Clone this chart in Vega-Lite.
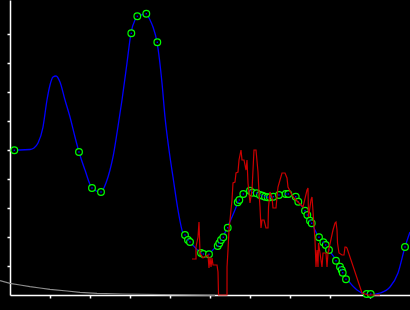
{
  "$schema": "https://vega.github.io/schema/vega-lite/v6.json",
  "width": 400,
  "height": 295,
  "autosize": {"type": "none"},
  "padding": {"left": 10, "top": 0, "right": 0, "bottom": 15},
  "background": "#000000",
  "config": {
    "view": {"stroke": null},
    "axis": {"grid": false, "labels": false, "title": null, "domainColor": "#ffffff", "domainWidth": 1.5, "tickColor": "#ffffff", "tickWidth": 1.5, "tickSize": 3}
  },
  "datasets": {
    "curve": [
      {"x": 1.0, "y": 50.0}, {"x": 2.5, "y": 50.0}, {"x": 5, "y": 50.17}, {"x": 6, "y": 50.69}, {"x": 7, "y": 52.41},
      {"x": 8.25, "y": 57.93}, {"x": 9.25, "y": 67.24}, {"x": 10, "y": 72.41}, {"x": 10.75, "y": 75.17}, {"x": 11.5, "y": 75.52},
      {"x": 12.5, "y": 73.45}, {"x": 13.75, "y": 67.24}, {"x": 15, "y": 61.38}, {"x": 16.25, "y": 54.48}, {"x": 17.25, "y": 49.31},
      {"x": 18.75, "y": 43.1}, {"x": 20.5, "y": 36.9}, {"x": 22.75, "y": 35.52}, {"x": 24, "y": 38.62}, {"x": 25, "y": 43.1},
      {"x": 25.75, "y": 47.59}, {"x": 26.75, "y": 55.86}, {"x": 28, "y": 67.24}, {"x": 29.25, "y": 80.0}, {"x": 30.25, "y": 90.34},
      {"x": 31.25, "y": 94.83}, {"x": 32.25, "y": 96.21}, {"x": 34, "y": 96.9}, {"x": 35, "y": 94.83}, {"x": 35.75, "y": 92.41},
      {"x": 36.75, "y": 87.24}, {"x": 38, "y": 73.1}, {"x": 38.75, "y": 61.38}, {"x": 40, "y": 47.59}, {"x": 40.75, "y": 40.69},
      {"x": 42, "y": 29.31}, {"x": 43.25, "y": 21.38}, {"x": 43.75, "y": 20.69}, {"x": 44.5, "y": 18.97}, {"x": 45, "y": 18.28},
      {"x": 47.5, "y": 14.83}, {"x": 48, "y": 14.48}, {"x": 49.5, "y": 14.14}, {"x": 51.25, "y": 16.21}, {"x": 51.75, "y": 16.55},
      {"x": 52.5, "y": 17.93}, {"x": 53.25, "y": 20.0}, {"x": 54.25, "y": 23.1}, {"x": 55.5, "y": 26.9}, {"x": 57, "y": 32.07},
      {"x": 57.25, "y": 33.1}, {"x": 58.25, "y": 35.17}, {"x": 60, "y": 35.86}, {"x": 61.25, "y": 35.17}, {"x": 62, "y": 35.17},
      {"x": 63.25, "y": 34.48}, {"x": 64.5, "y": 33.79}, {"x": 65.5, "y": 33.79}, {"x": 66.75, "y": 34.48}, {"x": 67.25, "y": 34.48},
      {"x": 69, "y": 34.83}, {"x": 69.75, "y": 34.83}, {"x": 71.5, "y": 33.79}, {"x": 72.25, "y": 32.07}, {"x": 73.75, "y": 28.97},
      {"x": 74.5, "y": 26.9}, {"x": 75, "y": 25.52}, {"x": 75.5, "y": 24.48}, {"x": 77.25, "y": 19.66}, {"x": 78.25, "y": 18.28},
      {"x": 78.75, "y": 17.59}, {"x": 79.75, "y": 15.52}, {"x": 81.5, "y": 12.07}, {"x": 82.5, "y": 9.66}, {"x": 83, "y": 8.28},
      {"x": 83.25, "y": 7.59}, {"x": 84.25, "y": 5.52}, {"x": 86.75, "y": 1.72}, {"x": 88.75, "y": 0.34}, {"x": 90.25, "y": 0.17},
      {"x": 92.5, "y": 0.69}, {"x": 95, "y": 2.76}, {"x": 97, "y": 7.59}, {"x": 98.75, "y": 16.55}, {"x": 100, "y": 21.72}
    ],
    "pts": [
      {"x": 1.08, "y": 49.9}, {"x": 17.25, "y": 49.31}, {"x": 20.5, "y": 36.9}, {"x": 22.75, "y": 35.52}, {"x": 30.33, "y": 90.24},
      {"x": 31.83, "y": 96.1}, {"x": 34.08, "y": 97.0}, {"x": 36.83, "y": 87.14}, {"x": 43.75, "y": 20.69}, {"x": 44.5, "y": 18.97},
      {"x": 45, "y": 18.28}, {"x": 47.75, "y": 14.48}, {"x": 48.33, "y": 14.14}, {"x": 49.75, "y": 14.03}, {"x": 51.93, "y": 16.9},
      {"x": 52.33, "y": 17.83}, {"x": 52.75, "y": 18.97}, {"x": 53.33, "y": 19.9}, {"x": 54.43, "y": 23.2}, {"x": 56.93, "y": 31.97},
      {"x": 57.33, "y": 32.76}, {"x": 58.33, "y": 34.83}, {"x": 60, "y": 35.97}, {"x": 60.58, "y": 35.28}, {"x": 61.68, "y": 35.07},
      {"x": 62.5, "y": 34.48}, {"x": 63.13, "y": 34.21}, {"x": 63.75, "y": 33.9}, {"x": 64.43, "y": 33.69}, {"x": 65, "y": 33.69},
      {"x": 65.83, "y": 33.9}, {"x": 67.25, "y": 34.48}, {"x": 68.93, "y": 34.83}, {"x": 69.58, "y": 34.83}, {"x": 71.43, "y": 33.9},
      {"x": 72.08, "y": 32.17}, {"x": 73.75, "y": 29.07}, {"x": 74.33, "y": 27.59}, {"x": 75, "y": 25.62}, {"x": 75.43, "y": 24.72},
      {"x": 77.25, "y": 19.9}, {"x": 78.33, "y": 18.17}, {"x": 78.93, "y": 17.24}, {"x": 79.75, "y": 15.52}, {"x": 81.5, "y": 11.83},
      {"x": 82.5, "y": 9.76}, {"x": 82.93, "y": 8.62}, {"x": 83.18, "y": 7.69}, {"x": 84, "y": 5.41}, {"x": 89.18, "y": 0.34},
      {"x": 90.18, "y": 0.34}, {"x": 98.75, "y": 16.55}
    ],
    "red": [
      {"x": 45.5, "y": 12.41}, {"x": 46.5, "y": 12.41}, {"x": 46.5, "y": 16.55}, {"x": 47, "y": 20.0}, {"x": 47.25, "y": 25.17},
      {"x": 47.5, "y": 14.48}, {"x": 48.25, "y": 12.76}, {"x": 49, "y": 13.45}, {"x": 49.5, "y": 13.79}, {"x": 49.75, "y": 9.31},
      {"x": 50, "y": 13.1}, {"x": 50.25, "y": 9.66}, {"x": 50.5, "y": 12.76}, {"x": 50.75, "y": 10.34}, {"x": 51.75, "y": 10.34},
      {"x": 52, "y": 7.93}, {"x": 52.13, "y": 0}, {"x": 54.25, "y": 0}, {"x": 54.26, "y": 9.66}, {"x": 54.5, "y": 15.52},
      {"x": 54.75, "y": 22.41}, {"x": 55.25, "y": 29.31}, {"x": 55.5, "y": 32.76}, {"x": 55.75, "y": 38.62}, {"x": 56.25, "y": 38.97},
      {"x": 56.5, "y": 42.07}, {"x": 57, "y": 42.41}, {"x": 57.25, "y": 46.55}, {"x": 57.75, "y": 50.0}, {"x": 58, "y": 46.55},
      {"x": 58.5, "y": 46.55}, {"x": 59, "y": 43.1}, {"x": 59.25, "y": 46.55}, {"x": 59.5, "y": 38.62}, {"x": 60, "y": 31.72},
      {"x": 60.5, "y": 36.21}, {"x": 61, "y": 50.0}, {"x": 61.5, "y": 50.0}, {"x": 62, "y": 42.41}, {"x": 62.25, "y": 35.17},
      {"x": 62.5, "y": 30.34}, {"x": 62.75, "y": 23.1}, {"x": 63, "y": 25.86}, {"x": 63.5, "y": 25.86}, {"x": 64, "y": 23.1},
      {"x": 64.5, "y": 23.1}, {"x": 64.63, "y": 30.34}, {"x": 65, "y": 35.52}, {"x": 65.5, "y": 33.45}, {"x": 65.75, "y": 30.0},
      {"x": 66.5, "y": 30.0}, {"x": 66.75, "y": 33.79}, {"x": 67, "y": 37.24}, {"x": 67.5, "y": 39.66}, {"x": 68, "y": 42.07},
      {"x": 68.75, "y": 42.07}, {"x": 69.25, "y": 40.34}, {"x": 69.5, "y": 37.24}, {"x": 70.5, "y": 34.48}, {"x": 71, "y": 33.45},
      {"x": 72, "y": 32.07}, {"x": 73.25, "y": 30.34}, {"x": 74.25, "y": 36.21}, {"x": 74.5, "y": 36.9}, {"x": 74.63, "y": 26.9},
      {"x": 75.25, "y": 32.76}, {"x": 75.5, "y": 33.79}, {"x": 76.25, "y": 18.97}, {"x": 76.5, "y": 9.66}, {"x": 76.75, "y": 15.52},
      {"x": 77, "y": 9.66}, {"x": 77.13, "y": 17.93}, {"x": 77.5, "y": 14.48}, {"x": 78, "y": 9.66}, {"x": 78.25, "y": 14.48},
      {"x": 79, "y": 14.48}, {"x": 79.25, "y": 9.66}, {"x": 79.5, "y": 14.48}, {"x": 80.75, "y": 22.41}, {"x": 81.25, "y": 24.83},
      {"x": 81.5, "y": 25.17}, {"x": 81.75, "y": 22.41}, {"x": 81.88, "y": 17.93}, {"x": 82.25, "y": 14.48}, {"x": 83, "y": 13.79},
      {"x": 83.5, "y": 13.79}, {"x": 83.75, "y": 16.55}, {"x": 84, "y": 16.55}, {"x": 84.25, "y": 16.21}, {"x": 88, "y": 0.69},
      {"x": 89.5, "y": 0}, {"x": 92.5, "y": 0}
    ],
    "gray": [
      {"x": -2.5, "y": 4.93}, {"x": 0, "y": 4.03}, {"x": 2.5, "y": 3.45}, {"x": 5, "y": 2.86}, {"x": 7.5, "y": 2.41},
      {"x": 10, "y": 1.97}, {"x": 14.25, "y": 1.38}, {"x": 17.5, "y": 0.93}, {"x": 21.75, "y": 0.59}, {"x": 28.25, "y": 0.34},
      {"x": 43, "y": 0.07}, {"x": 51.25, "y": -0.1}
    ]
  },
  "encoding": {
    "x": {"field": "x", "type": "quantitative", "scale": {"domain": [0, 100], "nice": false, "zero": false}, "axis": {"values": [10, 20, 30, 40, 50, 60, 70, 80, 90]}},
    "y": {"field": "y", "type": "quantitative", "scale": {"domain": [0, 101.7241], "nice": false, "zero": false}, "axis": {"values": [10, 20, 30, 40, 50, 60, 70, 80, 90]}}
  },
  "layer": [
    {"data": {"name": "gray"}, "mark": {"type": "line", "color": "#8c8c8c", "strokeWidth": 1.2}},
    {"data": {"name": "curve"}, "mark": {"type": "line", "color": "#0000ff", "strokeWidth": 1.3, "interpolate": "monotone"}},
    {"data": {"name": "pts"}, "mark": {"type": "point", "shape": "circle", "size": 45, "filled": false, "fill": "#000000", "fillOpacity": 1, "stroke": "#00ff00", "strokeWidth": 1.2, "opacity": 1}},
    {"data": {"name": "pts"}, "mark": {"type": "point", "shape": "square", "size": 2, "filled": true, "color": "#0000ff", "opacity": 1}},
    {"data": {"name": "red"}, "mark": {"type": "line", "color": "#cc0000", "strokeWidth": 1.2}}
  ]
}
